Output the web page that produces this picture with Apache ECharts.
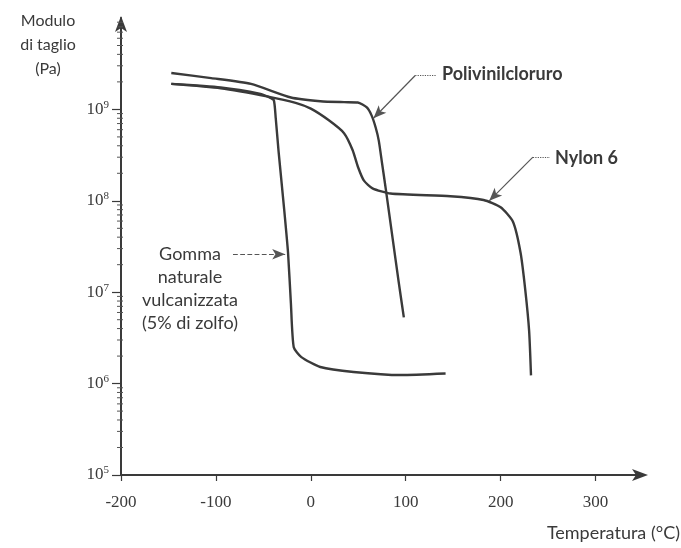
<!DOCTYPE html>
<html>
<head>
<meta charset="utf-8">
<script src="https://cdn.jsdelivr.net/npm/echarts@6/dist/echarts.min.js"></script>
<style>
  html, body { margin: 0; padding: 0; background: #ffffff; }
  #chart { width: 681px; height: 548px; }
</style>
</head>
<body>
<div id="chart"></div>
<script>
// temperature (°C) / shear modulus (Pa)

const pvcTemp = [-147, -105, -63, -21, 10, 35, 49.5, 59, 64, 68.4, 71.6, 75, 79, 86.3, 92.6, 98];
const pvcModulus = [2.5e9, 2.2e9, 1.9e9, 1.35e9, 1.23e9, 1.2e9, 1.19e9, 1.05e9, 8.6e8, 6.3e8, 4.55e8, 2.6e8, 1.34e8, 3.8e7, 1.29e7, 5.3e6];

const nylonTemp = [-147, -95, -45, -16, 0, 19, 35, 44, 50, 56, 65, 84, 147, 182, 200, 213, 221, 226, 230, 232];
const nylonModulus = [1.9e9, 1.7e9, 1.38e9, 1.18e9, 1.02e9, 7.6e8, 5.5e8, 3.6e8, 2.3e8, 1.66e8, 1.37e8, 1.2e8, 1.12e8, 1.02e8, 8.5e7, 5.9e7, 2.7e7, 1.05e7, 3.8e6, 1.23e6];

const rubberTemp = [-147, -95, -53, -44, -39, -37, -34, -28, -24, -21, -18, -10, 10, 45, 95, 142];
const rubberModulus = [1.9e9, 1.74e9, 1.48e9, 1.36e9, 1.26e9, 8.1e8, 3.5e8, 7.9e7, 2.7e7, 7.6e6, 2.5e6, 1.95e6, 1.52e6, 1.34e6, 1.24e6, 1.29e6];

// tick labels
const xTicks = [-200, -100, 0, 100, 200, 300];
const yTicks = [1e5, 1e6, 1e7, 1e8, 1e9];

// where the annotation arrows start and point to (data units)
const pvcArrow = [[110, 2.35e9], [66, 8.0e8]];
const pvcLead = [[110, 2.35e9], [132, 2.35e9]];
const nylonArrow = [[234, 3.0e8], [188, 1.0e8]];
const nylonLead = [[234, 3.0e8], [252, 3.0e8]];
const rubberArrow = [[-82, 2.6e7], [-27, 2.6e7]];

const INK = '#3a3a3a';
const SERIF = '"Liberation Serif", "DejaVu Serif", serif';
const SANS = 'Lato, "Open Sans", sans-serif';

// minor log ticks 2..9 in each decade
const yMinor = [];
for (let e = 5; e < 10; e++) {
    for (let m = 2; m <= 9; m++) yMinor.push(m * Math.pow(10, e));
}

function pairs(xs, ys) {
    return xs.map((x, i) => [x, ys[i]]);
}

function arrowLine(p, dashed) {
    return [
        { coord: p[0], symbol: 'none', lineStyle: { type: dashed ? 'dashed' : 'solid' } },
        { coord: p[1], symbol: 'arrow', symbolSize: [8, 13] }
    ];
}

function leadLine(p) {
    return [
        { coord: p[0], symbol: 'none', lineStyle: { type: 'dotted' } },
        { coord: p[1], symbol: 'none' }
    ];
}

function curve(name, data, marks) {
    return {
        name: name,
        type: 'line',
        data: data,
        showSymbol: false,
        smooth: 0.2,
        lineStyle: { color: INK, width: 2.4 },
        emphasis: { disabled: true },
        markLine: {
            silent: true,
            animation: false,
            label: { show: false },
            lineStyle: { color: '#555', width: 1.2, type: 'solid' },
            data: marks
        }
    };
}

// short minor tick drawn at the y axis, placed through the log scale
function renderMinorTick(params, api) {
    const p = api.coord([-200, api.value(1)]);
    return {
        type: 'line',
        shape: { x1: p[0] - 4, y1: p[1], x2: p[0] + 2, y2: p[1] },
        style: { stroke: '#555', lineWidth: 1 }
    };
}

const myChart = echarts.init(document.getElementById('chart'));

const option = {
    backgroundColor: '#ffffff',
    animation: false,
    grid: { left: 121, right: 38, top: 18, bottom: 73 },
    xAxis: {
        type: 'value',
        min: -200,
        max: 350,
        interval: 100,
        splitLine: { show: false },
        axisLine: {
            onZero: false,
            lineStyle: { color: INK, width: 2 },
            symbol: ['none', 'arrow'],
            symbolSize: [9, 16],
            symbolOffset: [0, 5]
        },
        axisTick: { customValues: xTicks, length: 6, lineStyle: { color: INK, width: 1.2 } },
        axisLabel: {
            customValues: xTicks,
            color: INK,
            fontFamily: SERIF,
            fontSize: 17,
            margin: 19
        }
    },
    yAxis: {
        type: 'log',
        logBase: 10,
        min: 1e5,
        max: 1e10,
        splitLine: { show: false },
        axisLine: {
            onZero: false,
            lineStyle: { color: INK, width: 2 },
            symbol: ['none', 'arrow'],
            symbolSize: [9, 16],
            symbolOffset: [0, 2]
        },
        axisTick: { customValues: yTicks, length: 9, lineStyle: { color: INK, width: 1.2 } },
        axisLabel: {
            customValues: yTicks,
            color: INK,
            fontFamily: SERIF,
            fontSize: 17,
            margin: 12,
            formatter: v => '10{s|' + Math.round(Math.log10(v)) + '}',
            rich: {
                s: { fontFamily: SERIF, fontSize: 11, color: INK, padding: [0, 0, 9, 0] }
            }
        }
    },
    graphic: [
        {
            type: 'text', x: 48, y: 9,
            style: {
                text: 'Modulo\ndi taglio\n(Pa)', align: 'center', verticalAlign: 'top',
                fill: INK, font: '16px ' + SANS, lineHeight: 24
            }
        },
        {
            type: 'text', x: 680, y: 533,
            style: { text: 'Temperatura (°C)', align: 'right', verticalAlign: 'middle', fill: INK, font: '18px ' + SANS }
        },
        {
            type: 'text', x: 442, y: 74,
            style: { text: 'Polivinilcloruro', align: 'left', verticalAlign: 'middle', fill: INK, font: 'bold 18px ' + SANS }
        },
        {
            type: 'text', x: 555, y: 158,
            style: { text: 'Nylon 6', align: 'left', verticalAlign: 'middle', fill: INK, font: 'bold 18px ' + SANS }
        },
        {
            type: 'text', x: 190, y: 243,
            style: {
                text: 'Gomma\nnaturale\nvulcanizzata\n(5% di zolfo)', align: 'center', verticalAlign: 'top',
                fill: INK, font: '18px ' + SANS, lineHeight: 23
            }
        }
    ],
    series: [
        curve('Polivinilcloruro', pairs(pvcTemp, pvcModulus), [arrowLine(pvcArrow), leadLine(pvcLead)]),
        curve('Nylon 6', pairs(nylonTemp, nylonModulus), [arrowLine(nylonArrow), leadLine(nylonLead)]),
        curve('Gomma naturale vulcanizzata', pairs(rubberTemp, rubberModulus), [arrowLine(rubberArrow, true)]),
        {
            type: 'custom',
            silent: true,
            clip: false,
            renderItem: renderMinorTick,
            data: yMinor.map(v => [-200, v])
        }
    ]
};

option && myChart.setOption(option, true);
</script>
</body>
</html>
